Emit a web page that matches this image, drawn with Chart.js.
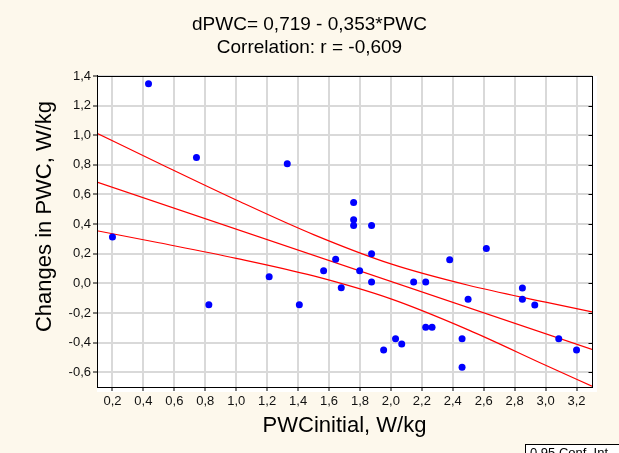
<!DOCTYPE html>
<html>
<head>
<meta charset="utf-8">
<script src="https://cdn.jsdelivr.net/npm/chart.js@4.4.1/dist/chart.umd.min.js"></script>
<style>
  html, body { margin: 0; padding: 0; background: #fdf8ec; }
  #wrap { width: 619px; height: 453px; }
</style>
</head>
<body>
<div id="wrap"><canvas id="c" width="619" height="453"></canvas></div>
<script>
// ---- data ----
const pwcInitial = [0.20, 0.433, 0.743, 0.823, 1.213, 1.33, 1.408, 1.565, 1.643, 1.679,
  1.759, 1.759, 1.759, 1.798, 1.875, 1.875, 1.875, 1.953, 2.03, 2.07,
  2.147, 2.225, 2.225, 2.266, 2.38, 2.46, 2.46, 2.499, 2.617, 2.85,
  2.85, 2.93, 3.085, 3.20];
const dPWC = [0.313, 1.347, 0.849, -0.144, 0.045, 0.808, -0.145, 0.085, 0.162, -0.03,
  0.545, 0.43, 0.39, 0.085, 0.39, 0.20, 0.009, -0.45, -0.374, -0.41,
  0.009, 0.009, -0.297, -0.297, 0.16, -0.374, -0.566, -0.108, 0.236, -0.032,
  -0.108, -0.147, -0.374, -0.45];

// regression line (dPWC = 0,719 - 0,353*PWC), end points
const fitX = [0.1, 3.3];
const fitY = [0.684, -0.446];

// 95% confidence band, read at several x positions
const bandX     = [0.1,   0.5,   1.0,   1.5,   2.0,    2.5,    3.0,    3.3];
const bandUpper = [1.013, 0.811, 0.563, 0.329, 0.131, -0.013, -0.127, -0.193];
const bandLower = [0.355, 0.274, 0.169, 0.050, -0.105, -0.314, -0.553, -0.695];

const xTickValues = [0.2, 0.4, 0.6, 0.8, 1.0, 1.2, 1.4, 1.6, 1.8, 2.0, 2.2, 2.4, 2.6, 2.8, 3.0, 3.2];
const yTickValues = [-0.6, -0.4, -0.2, 0.0, 0.2, 0.4, 0.6, 0.8, 1.0, 1.2, 1.4];

const titleLines = ['dPWC= 0,719 - 0,353*PWC', 'Correlation: r = -0,609'];
const xTitle = 'PWCinitial, W/kg';
const yTitle = 'Changes in PWC, W/kg';
const legendText = '0,95 Conf. Int.';

// ---- chart ----
const FONT = "'Liberation Sans', Arial, Helvetica, sans-serif";
const toPts = (xs, ys) => xs.map((x, i) => ({ x: x, y: ys[i] }));
const fmt = v => Number(v).toFixed(1).replace('.', ',');

const bgPlugin = {
  id: 'bg',
  beforeDraw(chart) {
    const { ctx, chartArea: a } = chart;
    ctx.save();
    ctx.fillStyle = '#fdf8ec';
    ctx.fillRect(0, 0, chart.width, chart.height);
    ctx.fillStyle = '#ffffff';
    ctx.fillRect(a.left, a.top, a.right - a.left + 5, a.bottom - a.top + 5);
    ctx.restore();
  },
  afterDraw(chart) {
    const { ctx, chartArea: a } = chart;
    const ys = chart.scales.y;
    ctx.save();
    // frame
    ctx.strokeStyle = '#000';
    ctx.lineWidth = 1;
    const L = Math.round(a.left) + 0.5, T = Math.round(a.top) + 0.5;
    const R = Math.round(a.right) + 0.5, B = Math.round(a.bottom) + 0.5;
    ctx.strokeRect(L, T, R - L, B - T);
    // inward ticks on the right edge, at the y ticks
    ctx.beginPath();
    yTickValues.forEach(v => {
      const py = Math.round(ys.getPixelForValue(v)) + 0.5;
      ctx.moveTo(R, py); ctx.lineTo(R - 4, py);
    });
    ctx.stroke();
    // y axis title (rotated)
    ctx.fillStyle = '#000';
    ctx.font = '22px ' + FONT;
    ctx.textAlign = 'center';
    ctx.textBaseline = 'middle';
    ctx.translate(45, (a.top + a.bottom) / 2 - 15);
    ctx.rotate(-Math.PI / 2);
    ctx.fillText(yTitle, 0, 0);
    ctx.setTransform(1, 0, 0, 1, 0, 0);
    // partially visible legend box at the bottom right
    ctx.fillStyle = '#ffffff';
    ctx.fillRect(525.5, 444.5, 120, 20);
    ctx.strokeRect(525.5, 444.5, 120, 20);
    ctx.fillStyle = '#000';
    ctx.font = '13px ' + FONT;
    ctx.textAlign = 'left';
    ctx.textBaseline = 'alphabetic';
    ctx.fillText(legendText, 530, 457);
    ctx.restore();
  }
};

new Chart(document.getElementById('c'), {
  type: 'scatter',
  data: {
    datasets: [
      {
        label: 'dPWC',
        data: toPts(pwcInitial, dPWC),
        backgroundColor: '#0000ff',
        borderColor: '#0000ff',
        borderWidth: 0,
        pointRadius: 3.5,
        pointHoverRadius: 3.5,
        showLine: false
      },
      {
        label: 'fit',
        data: toPts(fitX, fitY),
        showLine: true,
        borderColor: '#ff0000',
        borderWidth: 1.2,
        pointRadius: 0,
        fill: false
      },
      {
        label: 'upper',
        data: toPts(bandX, bandUpper),
        showLine: true,
        borderColor: '#ff0000',
        borderWidth: 1.2,
        pointRadius: 0,
        cubicInterpolationMode: 'monotone',
        fill: false
      },
      {
        label: 'lower',
        data: toPts(bandX, bandLower),
        showLine: true,
        borderColor: '#ff0000',
        borderWidth: 1.2,
        pointRadius: 0,
        cubicInterpolationMode: 'monotone',
        fill: false
      }
    ]
  },
  options: {
    responsive: false,
    animation: false,
    devicePixelRatio: 1,
    layout: { padding: { left: 0, right: 0, top: 0, bottom: 0 } },
    plugins: {
      legend: { display: false },
      tooltip: { enabled: false },
      title: {
        display: true,
        text: titleLines,
        color: '#000',
        font: { family: FONT, size: 19, weight: 'normal', lineHeight: 1.184 },
        padding: { top: 14, bottom: 17 }
      }
    },
    scales: {
      x: {
        type: 'linear',
        min: 0.1,
        max: 3.3,
        afterBuildTicks: s => { s.ticks = xTickValues.map(v => ({ value: v })); },
        afterFit: s => { s.height = 66; },
        grid: { color: '#d9d9d9', lineWidth: 2, tickColor: '#000', tickLength: 4, tickWidth: 1 },
        border: { color: '#000', width: 1 },
        ticks: {
          autoSkip: false, maxRotation: 0, padding: 3,
          color: '#111', font: { family: FONT, size: 13 },
          callback: v => fmt(v)
        },
        title: {
          display: true, text: xTitle, color: '#000',
          font: { family: FONT, size: 22, weight: 'normal' },
          padding: { top: 0, bottom: 13.5 }
        }
      },
      y: {
        type: 'linear',
        min: -0.7,
        max: 1.4,
        afterBuildTicks: s => { s.ticks = yTickValues.map(v => ({ value: v })); },
        afterFit: s => { s.width = 97; },
        grid: { color: '#d9d9d9', lineWidth: 2, tickColor: '#000', tickLength: 4, tickWidth: 1 },
        border: { color: '#000', width: 1 },
        ticks: {
          autoSkip: false, padding: 2,
          color: '#111', font: { family: FONT, size: 13 },
          callback: v => fmt(v)
        },
        title: { display: false }
      },
      yRight: {
        type: 'linear',
        position: 'right',
        display: true,
        afterFit: s => { s.width = 27; },
        grid: { display: false, drawTicks: false },
        border: { display: false },
        ticks: { display: false },
        title: { display: false }
      }
    }
  },
  plugins: [bgPlugin]
});
</script>
</body>
</html>
